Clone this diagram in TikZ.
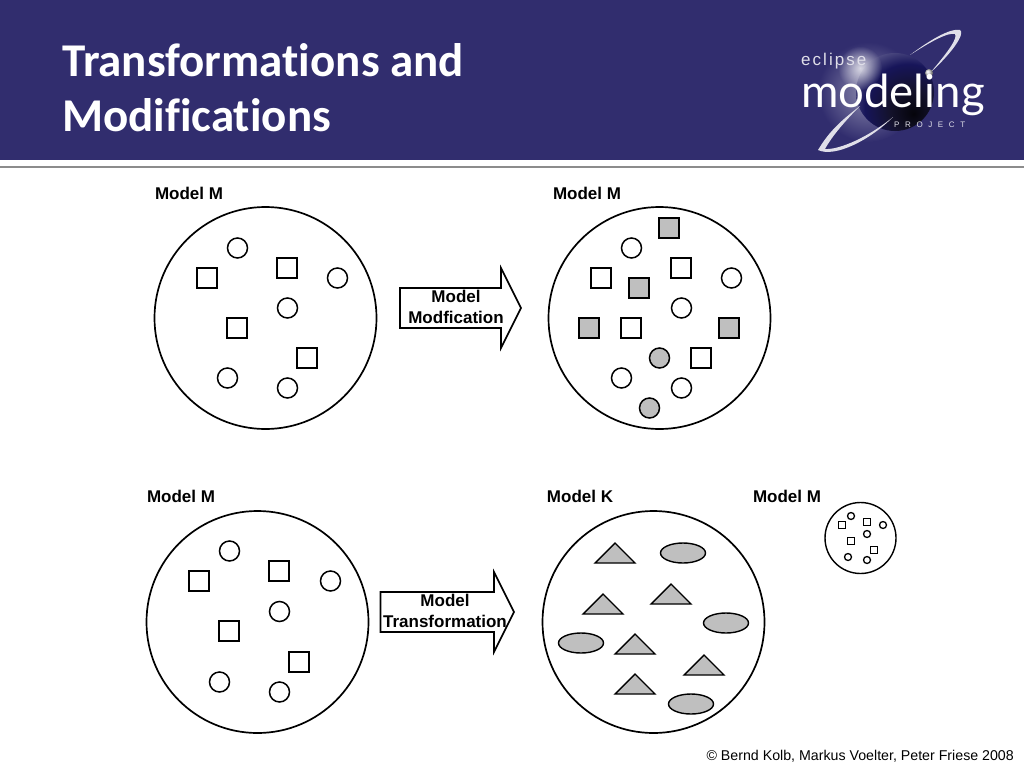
\documentclass[tikz,border=0pt]{standalone}
\usepackage{fontspec}
\setmainfont{Liberation Sans}
\newfontfamily\titlefont[Ligatures=NoCommon]{Carlito}
\newfontfamily\logofont{Lato}
\usetikzlibrary{fadings}
\definecolor{band}{HTML}{312D6E}
\definecolor{fillgrey}{HTML}{BFBFBF}
\tikzfading[name=softglow,inner color=transparent!25,outer color=transparent!100]
\pgfdeclareradialshading{sphereshade}{\pgfpoint{12bp}{-14bp}}{
 color(0bp)=(black!90!band);
 color(14bp)=(black!60!band);
 color(28bp)=(black!45!band!85!blue);
 color(40bp)=(band!75!white);
 color(50bp)=(band!35!white);
 color(100bp)=(band!35!white)}
\tikzset{
 x=1pt,y=-1pt,
 big/.style={circle,draw,line width=1.7pt,minimum size=222pt,inner sep=0},
 tiny/.style={circle,draw,line width=1.4pt,minimum size=71pt,inner sep=0},
 circ/.style={circle,draw,line width=1.5pt,minimum size=20pt,inner sep=0},
 sq/.style={rectangle,draw,line width=1.5pt,minimum size=20pt,inner sep=0},
 gc/.style={circ,fill=fillgrey},
 gs/.style={sq,fill=fillgrey},
 tri/.style={draw,line width=1.4pt,fill=fillgrey,line join=miter},
 smc/.style={circle,draw,line width=1.3pt,minimum size=7pt,inner sep=0},
 sms/.style={rectangle,draw,line width=1.3pt,minimum size=7pt,inner sep=0},
 lab/.style={font=\bfseries\fontsize{17}{19}\selectfont,inner sep=0},
 arrowtxt/.style={font=\bfseries\fontsize{17}{20.4}\selectfont,align=center,inner sep=0},
 blockarrow/.style={draw,line width=1.6pt,fill=white,line join=miter},
 titletxt/.style={font=\titlefont\bfseries\fontsize{47}{55}\selectfont,text=white,anchor=base west,inner sep=0},
}
\newcommand{\tripath}[2]{\path[tri] (#1-20,#2+10) -- (#1,#2-10) -- (#1+20,#2+10) -- cycle;}
\begin{document}
\begin{tikzpicture}
\useasboundingbox (0,0) rectangle (1024,768);
\fill[white] (0,0) rectangle (1024,768);
% header
\fill[band] (0,0) rectangle (1024,160);
\fill[black!45] (0,166) rectangle (1024,167.6);
\node[titletxt] (t1) at (62,76) {Transformations and};
\node[titletxt] (t2) at (62,131) {Modifications};
% logo
\shade[inner color=band!55!white,outer color=band] (868,92) circle (50);
\shade[shading=sphereshade] (895,92) circle (39);
\fill[white,path fading=softglow] (860,68) circle (22);
\fill[white!85!band] (818,150) .. controls (830,130) and (842,120) .. (860,106) .. controls (846,120) and (832,136) .. (825,149) .. controls (840,150) and (870,136) .. (893,117) .. controls (870,140) and (835,158) .. (818,150) -- cycle;
\fill[white!85!band] (910,55) .. controls (930,40) and (950,28) .. (960,30) .. controls (965,33) and (955,50) .. (930,73) .. controls (948,52) and (958,38) .. (955,34) .. controls (948,32) and (930,42) .. (910,55) -- cycle;
\shade[ball color=white!85!black] (929,73) circle (4);
\node[font=\fontsize{17}{17}\selectfont\addfontfeature{LetterSpace=12},text=white!85!band,anchor=base west,inner sep=0] (l1) at (801,66) {eclipse};
\node[font=\logofont\fontsize{45.5}{47}\selectfont,text=white,anchor=base west,inner sep=0] (l2) at (801,107) {modeling};
\node[font=\fontsize{8}{8}\selectfont\addfontfeature{LetterSpace=70},text=white!85!band,anchor=base west,inner sep=0] (l3) at (894,127) {PROJECT};
% top left
\node[lab] (m1) at (189,193) {Model M};
\node[big] (c1) at (265.5,318) {};
\foreach \n/\x/\y in {a/237.5/248,b/337.5/278,c/287.5/308,d/227.5/378,e/287.5/388}{\node[circ] (c1\n) at (\x,\y) {};}
\foreach \n/\x/\y in {f/207/278,g/287/268,h/237/328,i/307/358}{\node[sq] (c1\n) at (\x,\y) {};}
% top arrow
\path[blockarrow] (400,288) -- (501,288) -- (501,268) -- (521,308) -- (501,348) -- (501,328) -- (400,328) -- cycle;
\node[arrowtxt] (a1) at (456,307) {Model\\Modfication};
% top right
\node[lab] (m2) at (587,193) {Model M};
\node[big] (c2) at (659.5,318) {};
\foreach \n/\x/\y in {a/631.5/248,b/731.5/278,c/681.5/308,d/621.5/378,e/681.5/388}{\node[circ] (c2\n) at (\x,\y) {};}
\foreach \n/\x/\y in {f/601/278,g/681/268,h/631/328,i/701/358}{\node[sq] (c2\n) at (\x,\y) {};}
\foreach \n/\x/\y in {j/669/228,k/639/288,l/589/328,m/729/328}{\node[gs] (c2\n) at (\x,\y) {};}
\foreach \n/\x/\y in {o/659.5/358,p/649.5/408}{\node[gc] (c2\n) at (\x,\y) {};}
% bottom left
\node[lab] (m3) at (181,496) {Model M};
\node[big] (c3) at (257.5,622) {};
\foreach \n/\x/\y in {a/229.5/551,b/330.5/581,c/279.5/611.5,d/219.5/682,e/279.5/692}{\node[circ] (c3\n) at (\x,\y) {};}
\foreach \n/\x/\y in {f/199/581,g/279/571,h/229/631,i/299/662}{\node[sq] (c3\n) at (\x,\y) {};}
% bottom arrow
\path[blockarrow] (380.5,592) -- (494,592) -- (494,572) -- (514,612) -- (494,652) -- (494,632) -- (380.5,632) -- cycle;
\node[arrowtxt] (a2) at (445,611) {Model\\Transformation};
% bottom right
\node[lab] (m4) at (580,496) {Model K};
\node[big] (c4) at (653.5,622) {};
\tripath{615}{553}
\tripath{671}{594}
\tripath{603}{604}
\tripath{635}{644}
\tripath{704}{665}
\tripath{635}{684}
\foreach \n/\x/\y in {a/683/553,b/726/623,c/581/643,d/691/704}{\draw[line width=1.4pt,fill=fillgrey] (\x,\y) ellipse (22.5 and 10);}
% small model
\node[lab] (m5) at (787,496) {Model M};
\node[tiny] (c5) at (860.5,538) {};
\foreach \n/\x/\y in {a/851/516,b/883/525,c/867/534,d/848/557,e/867/560}{\node[smc] (c5\n) at (\x,\y) {};}
\foreach \n/\x/\y in {f/842/525,g/867/522,h/851/541,i/874/550}{\node[sms] (c5\n) at (\x,\y) {};}
% footer
\node[font=\fontsize{14.2}{15}\selectfont,anchor=base east,inner sep=0] (foot) at (1014,760) {© Bernd Kolb, Markus Voelter, Peter Friese 2008};
\end{tikzpicture}
\end{document}
